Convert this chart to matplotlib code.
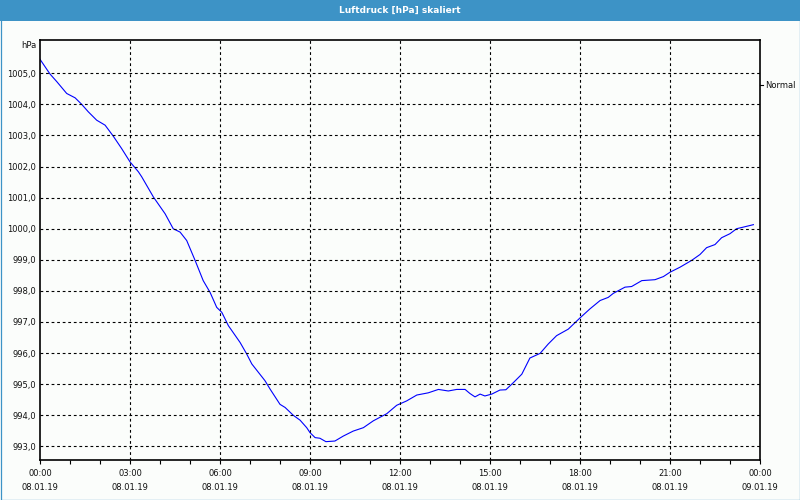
import matplotlib
matplotlib.use("Agg")
from matplotlib import pyplot as plt
from matplotlib.patches import Rectangle
from matplotlib.transforms import blended_transform_factory

# Luftdruck, Stunden ab 08.01.19 00:00
hours = [0.0, 0.33, 0.56, 0.89, 1.17, 1.39, 1.61, 1.89, 2.17, 2.44, 2.72, 3.0,
         3.28, 3.39, 3.78, 4.17, 4.44, 4.67, 4.89, 5.17, 5.44, 5.67, 5.89, 6.06,
         6.28, 6.67, 6.89, 7.06, 7.5, 7.67, 8.0, 8.17, 8.44, 8.67, 8.89, 9.0,
         9.17, 9.33, 9.53, 9.83, 10.11, 10.44, 10.78, 11.11, 11.56, 11.89, 12.22,
         12.56, 12.94, 13.28, 13.61, 13.89, 14.17, 14.33, 14.5, 14.67, 14.83,
         15.06, 15.33, 15.53, 15.78, 16.06, 16.33, 16.67, 16.94, 17.22, 17.61,
         18.0, 18.33, 18.67, 18.94, 19.11, 19.5, 19.72, 20.06, 20.5, 20.78, 21.0,
         21.33, 21.72, 22.0, 22.22, 22.5, 22.72, 23.0, 23.22, 23.44, 23.78]
pressure = [1005.45, 1004.98, 1004.73, 1004.35, 1004.21, 1004.0, 1003.76, 1003.49,
            1003.33, 1002.98, 1002.58, 1002.15, 1001.83, 1001.67, 1001.02, 1000.48,
            1000.0, 999.89, 999.62, 998.98, 998.33, 997.95, 997.47, 997.31, 996.88,
            996.34, 995.97, 995.65, 995.11, 994.84, 994.35, 994.25, 994.0, 993.84,
            993.6, 993.44, 993.28, 993.26, 993.15, 993.17, 993.33, 993.49, 993.6,
            993.82, 994.05, 994.32, 994.46, 994.65, 994.72, 994.83, 994.78, 994.83,
            994.83, 994.70, 994.59, 994.68, 994.62, 994.68, 994.81, 994.82, 995.05,
            995.32, 995.84, 995.99, 996.29, 996.56, 996.77, 997.13, 997.42, 997.69,
            997.79, 997.92, 998.12, 998.14, 998.33, 998.36, 998.46, 998.6, 998.76,
            998.98, 999.17, 999.39, 999.49, 999.71, 999.84, 1000.0, 1000.05, 1000.13]

xticks = [0, 3, 6, 9, 12, 15, 18, 21, 24]
time_labels = ["00:00", "03:00", "06:00", "09:00", "12:00", "15:00", "18:00", "21:00", "00:00"]
date_labels = ["08.01.19"] * 8 + ["09.01.19"]
yticks = list(range(993, 1006))

title = "Luftdruck [hPa] skaliert"
series_name = "Normal"

blue = "#3d93c6"
bg = "#fbfdfb"
fs = 6

plt.rcParams['font.family'] = ['DejaVu Sans']

fig = plt.figure(figsize=(8, 5), dpi=100, facecolor=bg)
ax = fig.add_axes([0.05, 0.08, 0.90, 0.84], facecolor=bg)

ax.plot(hours, pressure, color="#0000ff", lw=0.8)

ax.set_xlim(0, 24)
ax.set_ylim(992.56, 1006.07)

ax.set_yticks(yticks)
ax.set_yticklabels([("%.1f" % v).replace(".", ",") for v in yticks], fontsize=fs, color="#111111")
ax.tick_params(axis="y", length=0, pad=3)

ax.set_xticks(range(0, 25))
ax.set_xticklabels([])
ax.tick_params(axis="x", length=3, width=0.8, direction="out")

for x in xticks[1:-1]:
    ax.axvline(x, color="black", lw=0.8, ls=(0, (2.5, 2.5)))
for y in yticks:
    ax.axhline(y, color="black", lw=0.8, ls=(0, (2.5, 2.5)))

for s in ax.spines.values():
    s.set_linewidth(1.2)

tr = blended_transform_factory(ax.transData, fig.transFigure)
for x, t, d in zip(xticks, time_labels, date_labels):
    fig.text(x, 1 - 473 / 500, t, transform=tr, ha="center", va="center", fontsize=fs, color="#111111")
    fig.text(x, 1 - 488 / 500, d, transform=tr, ha="center", va="center", fontsize=fs, color="#111111")

fig.text(36 / 800, 1 - 45 / 500, "hPa", ha="right", va="center", fontsize=fs, color="#111111")

# Legende rechts
fig.lines.append(plt.Line2D([760 / 800, 763 / 800], [1 - 85 / 500] * 2, transform=fig.transFigure,
                            color="black", lw=0.8))
fig.text(765 / 800, 1 - 85 / 500, series_name, ha="left", va="center", fontsize=fs, color="#111111")

# Titelleiste und Rahmen
fig.patches.append(Rectangle((0, 1 - 20.5 / 500), 1, 20.5 / 500, transform=fig.transFigure,
                             facecolor=blue, edgecolor="none"))
fig.patches.append(Rectangle((0.5 / 800, 0.5 / 500), 799 / 800, 499 / 500, transform=fig.transFigure,
                             facecolor="none", edgecolor=blue, lw=0.9))
fig.text(0.5, 1 - 10 / 500, title, ha="center", va="center", fontsize=6.5, color="white",
         fontweight="bold")

fig.savefig("out.png", dpi=100, facecolor=bg)
